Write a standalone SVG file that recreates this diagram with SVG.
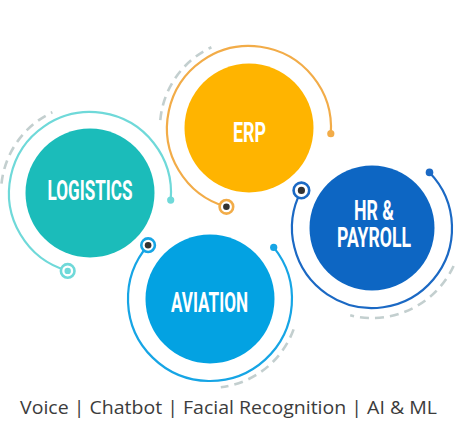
<svg xmlns="http://www.w3.org/2000/svg" width="464" height="435" viewBox="0 0 464 435">
<style>
.ring{fill:none;stroke-width:2.2;stroke-linecap:round}
.dash{fill:none;stroke:#c3cfcf;stroke-width:2.6;stroke-dasharray:9 6}
.lbl{font-family:"Roboto","DejaVu Sans Condensed",sans-serif;font-weight:bold;font-size:28px;fill:#ffffff;text-anchor:middle}
.mk{fill:#ffffff;stroke-width:2.6}
.cap{font-family:"Open Sans","Liberation Sans",sans-serif;font-size:19px;fill:#3c3c3c}
</style>
<rect width="464" height="435" fill="#ffffff"/>
<g id="connectors">
<path class="dash" d="M1.5,183.7 A89,89 0 0 1 52.4,112.3"/>
<path class="dash" d="M160.3,120.2 A89,89 0 0 1 211.4,47.3"/>
<path class="dash" d="M453.6,266 A90,90 0 0 1 350.2,315.3"/>
<path class="dash" d="M293.6,329.4 A89,89 0 0 1 220.8,387.3"/>
</g>
<g id="logistics">
<path class="ring" stroke="#6fd9d9" d="M170.7,200.1 A81,81 0 1 0 67.7,270.9"/>
<circle cx="170.7" cy="200.1" r="3.6" fill="#6fd9d9"/>
<circle class="mk" cx="67.7" cy="270.9" r="6.8" stroke="#6fd9d9"/>
<circle cx="67.7" cy="270.9" r="3.2" fill="#6fd9d9"/>
<circle cx="90" cy="193" r="64.5" fill="#1bbcba"/>
<text class="lbl" x="90" y="200" textLength="85" lengthAdjust="spacingAndGlyphs">LOGISTICS</text>
</g>
<g id="erp">
<path class="ring" stroke="#f2ac48" d="M330.8,133.7 A82,82 0 1 0 226.4,206.8"/>
<circle cx="330.8" cy="133.7" r="3.6" fill="#f2ac48"/>
<circle class="mk" cx="226.4" cy="206.8" r="6.8" stroke="#f2ac48"/>
<circle cx="226.4" cy="206.8" r="3.3" fill="#333333"/>
<circle cx="249" cy="128" r="64.5" fill="#ffb400"/>
<text class="lbl" x="249.5" y="142" textLength="33" lengthAdjust="spacingAndGlyphs">ERP</text>
</g>
<g id="hr-payroll">
<path class="ring" stroke="#1b69c4" d="M429.5,172.4 A80,80 0 1 1 301.4,190.4"/>
<circle cx="429.5" cy="172.4" r="3.8" fill="#1b69c4"/>
<circle class="mk" cx="301.4" cy="190.4" r="7.8" stroke="#1b69c4" stroke-width="3"/>
<circle cx="301.4" cy="190.4" r="3.6" fill="#333333"/>
<circle cx="372" cy="228" r="62.5" fill="#0d66c3"/>
<text class="lbl"><tspan x="374" y="220" textLength="40" lengthAdjust="spacingAndGlyphs">HR &amp;</tspan><tspan x="374" y="247" textLength="74" lengthAdjust="spacingAndGlyphs">PAYROLL</tspan></text>
</g>
<g id="aviation">
<path class="ring" stroke="#16a5e5" d="M148.1,245.2 A82,82 0 1 0 273.7,247.4"/>
<circle cx="273.7" cy="247.4" r="3.6" fill="#16a5e5"/>
<circle class="mk" cx="148.1" cy="245.2" r="6.8" stroke="#16a5e5"/>
<circle cx="148.1" cy="245.2" r="3.3" fill="#333333"/>
<circle cx="210" cy="299" r="64.5" fill="#03a2e2"/>
<text class="lbl" x="209.5" y="312" textLength="77" lengthAdjust="spacingAndGlyphs">AVIATION</text>
</g>
<text class="cap" x="20" y="414" textLength="417" lengthAdjust="spacingAndGlyphs">Voice | Chatbot | Facial Recognition | AI &amp; ML</text>
</svg>
